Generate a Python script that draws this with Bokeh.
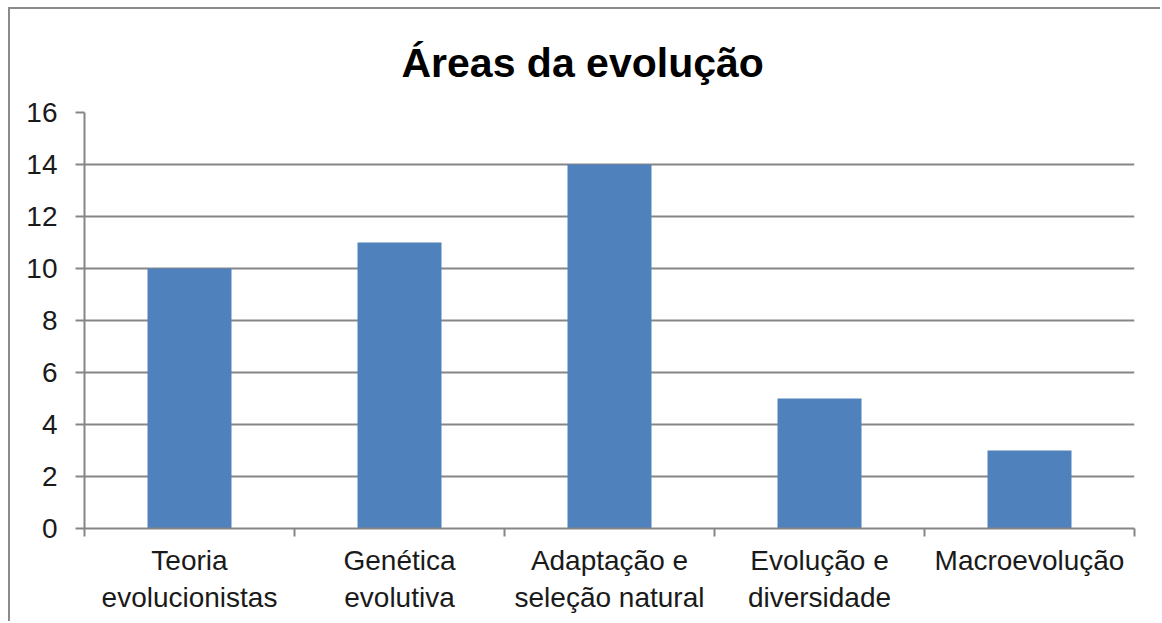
from bokeh.plotting import figure
from bokeh.models import Range1d, FixedTicker, ColumnDataSource, Title
from bokeh.embed import file_html
from bokeh.resources import INLINE

categories = ["Teoria\nevolucionistas", "Genética\nevolutiva", "Adaptação e\nseleção natural",
              "Evolução e\ndiversidade", "Macroevolução"]
values = [10, 11, 14, 5, 3]
y_ticks = [0, 2, 4, 6, 8, 10, 12, 14, 16]
title_text = "Áreas da evolução"

FONT = "Liberation Sans"
GRID = "#868686"

xs = [i + 0.5 for i in range(len(categories))]
src = ColumnDataSource(dict(x=xs, top=values))

p = figure(width=1152, height=614, output_backend="svg", toolbar_location=None,
           x_range=Range1d(0, len(categories)), y_range=Range1d(0, 16),
           min_border_left=74, min_border_right=28, min_border_top=103, min_border_bottom=95)
p.styles = {"margin-left": "8px", "margin-top": "7px",
            "border-left": "2px solid #8a8a8a", "border-top": "2px solid #8a8a8a"}

p.title = Title(text=title_text, align="left", text_font=FONT, text_font_size="41px",
                text_font_style="bold", text_color="#000000", offset=317, standoff=54)

p.vbar(x="x", top="top", width=0.4, bottom=0, source=src, fill_color="#4F81BD", line_color=None)

p.outline_line_color = None
p.background_fill_color = "white"
p.border_fill_color = "white"

# x axis
p.xaxis.ticker = FixedTicker(ticks=xs, minor_ticks=list(range(len(categories) + 1)))
p.xaxis.major_label_overrides = {x: c for x, c in zip(xs, categories)}
p.xaxis.major_tick_line_color = None
p.xaxis.minor_tick_line_color = GRID
p.xaxis.minor_tick_line_width = 2
p.xaxis.minor_tick_out = 8
p.xaxis.minor_tick_in = 0
p.xaxis.axis_line_color = GRID
p.xaxis.axis_line_width = 2
p.xaxis.major_label_text_font = FONT
p.xaxis.major_label_text_font_size = "28px"
p.xaxis.major_label_text_color = "#1a1a1a"
p.xaxis.major_label_standoff = 8
p.xgrid.grid_line_color = None

# y axis
p.yaxis.ticker = FixedTicker(ticks=y_ticks)
p.yaxis.minor_tick_line_color = None
p.yaxis.major_tick_line_color = GRID
p.yaxis.major_tick_line_width = 2
p.yaxis.major_tick_out = 9
p.yaxis.major_tick_in = 0
p.yaxis.axis_line_color = GRID
p.yaxis.axis_line_width = 2
p.yaxis.major_label_text_font = FONT
p.yaxis.major_label_text_font_size = "28px"
p.yaxis.major_label_text_color = "#1a1a1a"
p.yaxis.major_label_standoff = 18
p.ygrid.grid_line_color = GRID
p.ygrid.grid_line_width = 2

open("out.html", "w").write(file_html(p, INLINE))
